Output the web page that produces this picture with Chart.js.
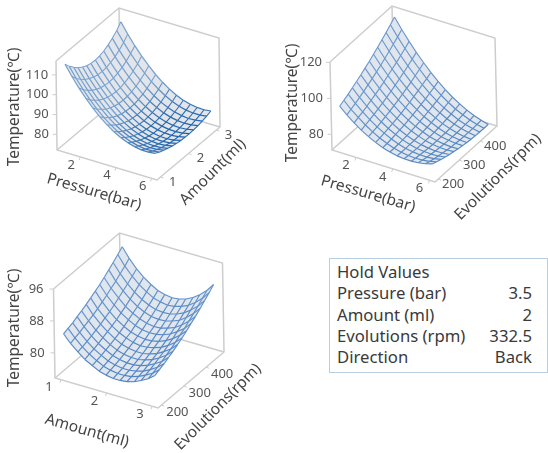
<!DOCTYPE html>
<html>
<head>
<meta charset="utf-8">
<script src="https://cdn.jsdelivr.net/npm/chart.js@4"></script>
<style>
  html, body { margin: 0; padding: 0; background: #fff; }
  body { width: 548px; height: 453px; position: relative; overflow: hidden; font-family: "Noto Sans", sans-serif; }
  canvas { position: absolute; }
  #hold { position: absolute; left: 329px; top: 258px; width: 217px; height: 113px; border: 1px solid #b7cfe2; box-sizing: content-box; }
  #hold table { border-collapse: collapse; margin: 2px 0 0 7px; width: 195px; font-size: 16.7px; color: #3a3a3a; }
  #hold td { padding: 0; height: 21.3px; line-height: 21px; white-space: nowrap; }
  #hold td + td { text-align: right; }
</style>
</head>
<body>
<canvas id="chartA" width="274" height="226" style="left:0;top:0"></canvas>
<canvas id="chartB" width="274" height="226" style="left:274px;top:0"></canvas>
<canvas id="chartC" width="274" height="227" style="left:0;top:226px"></canvas>
<div id="hold"><table id="holdTable"></table></div>
<script>
/*----------------------------data------------------------------------*/
var pressureGrid = [1,1.38,1.77,2.15,2.54,2.92,3.31,3.69,4.08,4.46,4.85,5.23,5.62,6];
var amountGrid = [1,1.15,1.31,1.46,1.62,1.77,1.92,2.08,2.23,2.38,2.54,2.69,2.85,3];
var rpmGrid = [200,220,241,261,281,302,322,343,363,383,404,424,445,465];

// temperature, one row per amount, one column per pressure
var tempPressureAmount = [
[114.7,109.5,104.7,100.5,96.7,93.3,90.4,88.0,86.0,84.5,83.5,82.9,82.8,83.2],
[111.8,106.7,102.1,98.0,94.3,91.1,88.4,86.1,84.2,82.9,82.0,81.5,81.6,82.0],
[109.4,104.4,99.9,95.9,92.4,89.3,86.6,84.4,82.7,81.5,80.7,80.3,80.5,81.1],
[107.4,102.5,98.1,94.2,90.7,87.7,85.2,83.1,81.5,80.3,79.6,79.4,79.6,80.3],
[105.9,101.1,96.8,92.9,89.5,86.5,84.1,82.0,80.5,79.4,78.8,78.6,78.9,79.6],
[104.8,100.1,95.8,92.0,88.6,85.7,83.3,81.3,79.8,78.7,78.1,78.0,78.3,79.1],
[104.2,99.4,95.2,91.4,88.1,85.2,82.8,80.8,79.3,78.3,77.7,77.6,78.0,78.8],
[104.0,99.3,95.0,91.2,87.9,85.0,82.6,80.6,79.1,78.1,77.6,77.4,77.8,78.6],
[104.3,99.5,95.2,91.4,88.1,85.2,82.7,80.8,79.2,78.2,77.6,77.5,77.8,78.6],
[105.0,100.2,95.9,92.0,88.6,85.7,83.2,81.2,79.6,78.5,77.9,77.7,78.0,78.7],
[106.2,101.3,96.9,93.0,89.5,86.5,83.9,81.9,80.2,79.1,78.4,78.1,78.3,79.0],
[107.8,102.8,98.3,94.3,90.8,87.7,85.0,82.8,81.1,79.9,79.1,78.7,78.9,79.5],
[109.8,104.8,100.2,96.1,92.4,89.2,86.4,84.1,82.3,80.9,80.0,79.6,79.6,80.1],
[112.4,107.2,102.4,98.2,94.4,91.0,88.1,85.7,83.7,82.2,81.2,80.6,80.5,80.9]
];

// temperature, one row per rpm, one column per pressure
var tempPressureRpm = [
[95.0,91.4,88.2,85.4,83.0,81.0,79.3,78.1,77.2,76.8,76.7,77.0,77.7,78.8],
[96.2,92.4,89.1,86.1,83.5,81.3,79.5,78.1,77.1,76.5,76.2,76.4,76.9,77.9],
[97.4,93.5,90.0,86.9,84.1,81.8,79.8,78.2,77.0,76.3,75.9,75.8,76.2,77.0],
[98.8,94.7,91.0,87.7,84.8,82.3,80.2,78.4,77.1,76.1,75.6,75.4,75.6,76.2],
[100.2,95.9,92.1,88.6,85.6,82.9,80.6,78.7,77.2,76.1,75.4,75.0,75.1,75.5],
[101.7,97.3,93.3,89.6,86.4,83.6,81.1,79.1,77.4,76.1,75.2,74.7,74.6,74.9],
[103.3,98.7,94.5,90.7,87.3,84.3,81.7,79.5,77.7,76.2,75.2,74.5,74.2,74.4],
[104.9,100.2,95.8,91.9,88.3,85.2,82.4,80.0,78.0,76.4,75.2,74.4,74.0,73.9],
[106.7,101.8,97.3,93.2,89.4,86.1,83.2,80.6,78.5,76.7,75.3,74.3,73.7,73.5],
[108.5,103.4,98.8,94.5,90.6,87.1,84.0,81.3,79.0,77.0,75.5,74.4,73.6,73.2],
[110.4,105.2,100.3,95.9,91.8,88.2,84.9,82.1,79.6,77.5,75.8,74.5,73.6,73.0],
[112.3,107.0,102.0,97.4,93.2,89.4,85.9,82.9,80.2,78.0,76.1,74.7,73.6,72.9],
[114.4,108.9,103.7,99.0,94.6,90.6,87.0,83.8,81.0,78.6,76.6,74.9,73.7,72.8],
[116.6,110.9,105.5,100.6,96.1,91.9,88.2,84.8,81.8,79.3,77.1,75.3,73.9,72.8]
];

// temperature, one row per rpm, one column per amount
var tempAmountRpm = [
[84.5,82.6,81.0,79.6,78.6,77.7,77.2,76.9,76.9,77.1,77.6,78.4,79.4,80.7],
[84.9,83.0,81.3,80.0,78.9,78.0,77.5,77.2,77.2,77.4,78.0,78.8,79.8,81.2],
[85.3,83.4,81.7,80.3,79.2,78.3,77.8,77.5,77.5,77.8,78.3,79.2,80.3,81.7],
[85.9,83.9,82.1,80.7,79.6,78.7,78.2,77.9,77.9,78.2,78.8,79.7,80.8,82.3],
[86.4,84.4,82.6,81.2,80.0,79.1,78.6,78.3,78.3,78.7,79.3,80.2,81.4,82.9],
[87.0,84.9,83.1,81.7,80.5,79.6,79.1,78.8,78.8,79.2,79.8,80.8,82.0,83.6],
[87.7,85.5,83.7,82.2,81.0,80.2,79.6,79.3,79.4,79.8,80.4,81.4,82.7,84.3],
[88.4,86.2,84.3,82.8,81.6,80.7,80.2,79.9,80.0,80.4,81.1,82.1,83.5,85.1],
[89.1,86.9,85.0,83.5,82.3,81.4,80.8,80.6,80.7,81.1,81.8,82.9,84.2,86.0],
[89.9,87.7,85.8,84.2,83.0,82.1,81.5,81.2,81.3,81.8,82.5,83.6,85.1,86.8],
[90.8,88.5,86.6,85.0,83.7,82.8,82.2,82.0,82.1,82.6,83.3,84.5,86.0,87.8],
[91.7,89.4,87.4,85.8,84.5,83.6,83.0,82.8,82.9,83.4,84.2,85.4,86.9,88.8],
[92.7,90.3,88.3,86.7,85.4,84.4,83.9,83.6,83.8,84.3,85.1,86.3,87.9,89.8],
[93.7,91.3,89.2,87.6,86.3,85.3,84.8,84.5,84.7,85.2,86.1,87.3,88.9,90.9]
];

var pressureTicks = [2,4,6];
var amountTicks = [1,2,3];
var rpmTicks = [200,300,400];
var tempTicksA = [80,90,100,110];
var tempTicksB = [80,100,120];
var tempTicksC = [80,88,96];

var holdLabels = ["Hold Values","Pressure (bar)","Amount (ml)","Evolutions (rpm)","Direction"];
var holdValues = ["","3.5","2","332.5","Back"];

/*----------------------------drawing------------------------------------*/
var BOX = "#cdcdcd";
var TEXT = "#444";
var TICK = "#555";

// box is a parallel projection: left/front/right floor corners + vertical edge
function project(c, x, y, z) {
  var u = (x - c.xRange[0]) / (c.xRange[1] - c.xRange[0]);
  var v = (y - c.yRange[0]) / (c.yRange[1] - c.yRange[0]);
  var w = (z - c.zRange[0]) / (c.zRange[1] - c.zRange[0]);
  var ex = [c.front[0] - c.left[0], c.front[1] - c.left[1]];
  var ey = [c.right[0] - c.front[0], c.right[1] - c.front[1]];
  return {
    x: c.left[0] + u * ex[0] + v * ey[0] + w * c.up[0],
    y: c.left[1] + u * ex[1] + v * ey[1] + w * c.up[1]
  };
}

function pathSet(points, color, width, order) {
  return { data: points, showLine: true, borderColor: color, borderWidth: width, pointRadius: 0, fill: false, order: order };
}

function mix(a, b, t) {
  var out = [];
  for (var i = 0; i < 3; i++) out.push(Math.round(a[i] + (b[i] - a[i]) * t));
  return "rgb(" + out.join(",") + ")";
}

function wireSet(c, cells, width) {
  var pts = cells.map(function (p) { return project(c, p[0], p[1], p[2]); });
  var set = pathSet(pts, c.lineHigh, width, 0);
  set.segment = {
    borderColor: function (ctx) {
      var t = (cells[ctx.p0DataIndex][2] - c.colorRange[0]) / (c.colorRange[1] - c.colorRange[0]);
      t = Math.max(0, Math.min(1, t));
      return mix(c.rgbLow, c.rgbHigh, t);
    }
  };
  return set;
}

function surfaceChart(id, c) {
  var x0 = c.xRange[0], x1 = c.xRange[1], y0 = c.yRange[0], y1 = c.yRange[1], z0 = c.zRange[0], z1 = c.zRange[1];
  var sets = [];

  // box
  sets.push(pathSet([[x0,y0,z1],[x0,y1,z1],[x1,y1,z1],[x1,y1,z0],[x1,y0,z0],[x0,y0,z0],[x0,y0,z1]].map(function (p) { return project(c, p[0], p[1], p[2]); }), BOX, 1.5, 3));
  sets.push(pathSet([project(c,x0,y1,z1), project(c,x0,y1,z0)], BOX, 1.5, 3));
  sets.push(pathSet([project(c,x0,y0,z0), project(c,x0,y1,z0), project(c,x1,y1,z0)], BOX, 1.5, 3));

  // tick marks
  c.xTicks.forEach(function (t) {
    var a = project(c, t, y0, z0);
    sets.push(pathSet([a, { x: a.x - 1, y: a.y + 3 }], BOX, 1, 3));
  });
  c.yTicks.forEach(function (t) {
    var a = project(c, x1, t, z0);
    sets.push(pathSet([a, { x: a.x + 3, y: a.y + 1 }], BOX, 1, 3));
  });
  c.zTicks.forEach(function (t) {
    var a = project(c, x0, y0, t);
    sets.push(pathSet([a, { x: a.x - 4, y: a.y }], BOX, 1, 3));
  });

  // surface fill follows the edge of the grid
  var nx = c.xGrid.length, ny = c.yGrid.length, outline = [], i, j;
  for (i = 0; i < nx; i++) outline.push(project(c, c.xGrid[i], c.yGrid[0], c.surface[0][i]));
  for (j = 1; j < ny; j++) outline.push(project(c, c.xGrid[nx - 1], c.yGrid[j], c.surface[j][nx - 1]));
  for (i = nx - 2; i >= 0; i--) outline.push(project(c, c.xGrid[i], c.yGrid[ny - 1], c.surface[ny - 1][i]));
  for (j = ny - 2; j >= 0; j--) outline.push(project(c, c.xGrid[0], c.yGrid[j], c.surface[j][0]));
  var skin = pathSet(outline, c.fillColor, 0, 1);
  skin.fill = "shape";
  skin.backgroundColor = c.fillColor;
  sets.push(skin);

  // wireframe
  for (j = 0; j < ny; j++) {
    sets.push(wireSet(c, c.xGrid.map(function (x, k) { return [x, c.yGrid[j], c.surface[j][k]]; }), c.rowWidth));
  }
  for (i = 0; i < nx; i++) {
    sets.push(wireSet(c, c.yGrid.map(function (y, k) { return [c.xGrid[i], y, c.surface[k][i]]; }), c.colWidth));
  }

  var canvas = document.getElementById(id);

  var textPlugin = {
    id: "boxText",
    afterDraw: function (chart) {
      var ctx = chart.ctx, sx = chart.scales.x, sy = chart.scales.y;
      function put(text, p, dx, dy, font, color, align, angle) {
        ctx.save();
        ctx.translate(sx.getPixelForValue(p.x) + dx, sy.getPixelForValue(p.y) + dy);
        ctx.rotate((angle || 0) * Math.PI / 180);
        ctx.font = font;
        ctx.fillStyle = color;
        ctx.textAlign = align;
        ctx.textBaseline = "middle";
        ctx.fillText(text, 0, 0);
        ctx.restore();
      }
      var tickFont = '13px "Liberation Sans Narrow", "Noto Sans"', titleFont = '15.5px "Noto Sans"';
      c.xTicks.forEach(function (t) { put(String(t), project(c, t, y0, z0), c.xOff[0], c.xOff[1], tickFont, TICK, "center"); });
      c.yTicks.forEach(function (t) { put(String(t), project(c, x1, t, z0), c.yOff[0], c.yOff[1], tickFont, TICK, "center"); });
      c.zTicks.forEach(function (t) { put(String(t), project(c, x0, y0, t), c.zOff, 0, tickFont, TICK, "right"); });
      c.titles.forEach(function (t) { put(t.text, { x: t.at[0], y: t.at[1] }, 0, 0, titleFont, TEXT, "center", t.angle); });
    }
  };

  new Chart(canvas, {
    type: "scatter",
    data: { datasets: sets },
    plugins: [textPlugin],
    options: {
      responsive: false,
      animation: false,
      events: [],
      layout: { padding: 0 },
      plugins: { legend: { display: false }, tooltip: { enabled: false } },
      scales: {
        x: { display: false, type: "linear", min: 0, max: canvas.width },
        y: { display: false, type: "linear", min: 0, max: canvas.height, reverse: true }
      }
    }
  });
}

surfaceChart("chartA", {
  xGrid: pressureGrid, yGrid: amountGrid, surface: tempPressureAmount,
  xTicks: pressureTicks, yTicks: amountTicks, zTicks: tempTicksA,
  xRange: [0.7,6.3], yRange: [0.87,3.13], zRange: [72.1,117],
  left: [57,150], front: [157,180], right: [220,127], up: [-1,-89],
  xOff: [-9,8], yOff: [12,5], zOff: -8,
  fillColor: "#e2e5ea", lineHigh: "#6f9bcb", rgbLow: [25,95,170], rgbHigh: [120,162,208], colorRange: [77,90],
  rowWidth: 1.25, colWidth: 1.05,
  titles: [
    { text: "Temperature(℃)", at: [15,107], angle: -90 },
    { text: "Pressure(bar)", at: [94,192], angle: 16 },
    { text: "Amount(ml)", at: [213,172], angle: -45 }
  ]
});

surfaceChart("chartB", {
  xGrid: pressureGrid, yGrid: rpmGrid, surface: tempPressureRpm,
  xTicks: pressureTicks, yTicks: rpmTicks, zTicks: tempTicksB,
  xRange: [0.7,6.3], yRange: [185,480], zRange: [71.3,120.2],
  left: [58,150], front: [161,182], right: [223,126], up: [-2,-88],
  xOff: [-10,8], yOff: [15,5], zOff: -8,
  fillColor: "#dfe6ee", lineHigh: "#6f9bcb", rgbLow: [85,135,195], rgbHigh: [110,152,204], colorRange: [74,100],
  rowWidth: 1.15, colWidth: 1.15,
  titles: [
    { text: "Temperature(℃)", at: [19,103], angle: -90 },
    { text: "Pressure(bar)", at: [94,194], angle: 16 },
    { text: "Evolutions(rpm)", at: [224,177], angle: -45 }
  ]
});

surfaceChart("chartC", {
  xGrid: amountGrid, yGrid: rpmGrid, surface: tempAmountRpm,
  xTicks: amountTicks, yTicks: rpmTicks, zTicks: tempTicksC,
  xRange: [0.87,3.13], yRange: [185,480], zRange: [73.7,96],
  left: [55,152], front: [158,182], right: [224,126], up: [-1.5,-89],
  xOff: [-12,8], yOff: [16,7], zOff: -10,
  fillColor: "#dfe6ee", lineHigh: "#6f9bcb", rgbLow: [80,130,195], rgbHigh: [105,150,204], colorRange: [76,90],
  rowWidth: 1.15, colWidth: 1.15,
  titles: [
    { text: "Temperature(℃)", at: [15,102], angle: -90 },
    { text: "Amount(ml)", at: [87,205], angle: 16 },
    { text: "Evolutions(rpm)", at: [218,181], angle: -45 }
  ]
});

/*----------------------------hold values------------------------------------*/
var rows = "";
for (var h = 0; h < holdLabels.length; h++) {
  rows += "<tr><td>" + holdLabels[h] + "</td><td>" + holdValues[h] + "</td></tr>";
}
document.getElementById("holdTable").innerHTML = rows;
</script>
</body>
</html>
